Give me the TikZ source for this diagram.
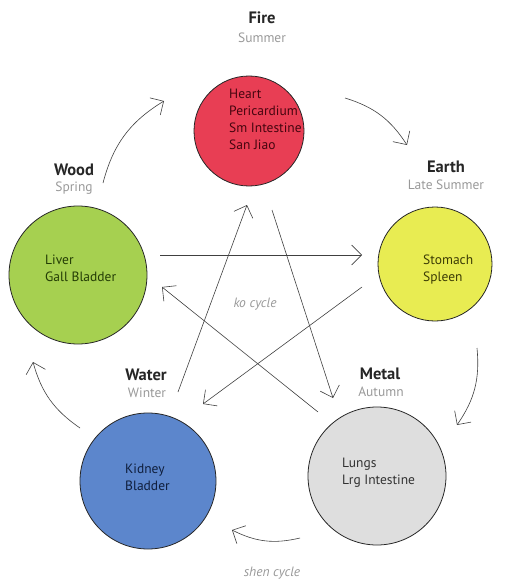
\documentclass[tikz,border=0pt]{standalone}
\usepackage{fontspec}
\setmainfont{PT Sans}
\usetikzlibrary{arrows.meta}
\definecolor{firec}{RGB}{232,62,84}
\definecolor{woodc}{RGB}{166,208,80}
\definecolor{earthc}{RGB}{232,236,82}
\definecolor{waterc}{RGB}{92,134,204}
\definecolor{metalc}{RGB}{222,222,222}
\definecolor{firet}{RGB}{70,5,15}
\definecolor{woodt}{RGB}{35,60,5}
\definecolor{eartht}{RGB}{60,60,5}
\definecolor{watert}{RGB}{15,30,60}
\definecolor{metalt}{RGB}{50,50,50}
\begin{document}
\begin{tikzpicture}[x=1pt,y=-1pt,
  elem/.style={circle, draw=black!85, line width=0.8pt, inner sep=0pt, minimum size=#1},
  organ/.style={align=left, inner sep=0pt, anchor=north west, font=\fontsize{13.5}{17}\selectfont},
  title/.style={font=\fontsize{16.5}{18}\selectfont\bfseries, text=black!85},
  season/.style={font=\fontsize{13.5}{15}\selectfont, text=black!40},
  cyc/.style={draw=black!75, line width=0.6pt, -{Straight Barb[length=10pt,width=20pt]}},
  lbl/.style={font=\fontsize{13.5}{15}\selectfont\itshape, text=black!40}]
\useasboundingbox (0,0) rectangle (511,583);
% circles
\node[elem=110pt, fill=firec] (fire) at (249,131) {};
\node[elem=138pt, fill=woodc] (wood) at (78,275) {};
\node[elem=114pt, fill=earthc] (earth) at (435,264) {};
\node[elem=136pt, fill=waterc] (water) at (148,481) {};
\node[elem=138pt, fill=metalc] (metal) at (377,476) {};
% organ texts
\node[organ, text=firet] (firetxt) at (229,89) {Heart\\Pericardium\\Sm Intestine\\San Jiao};
\node[organ, text=woodt] (woodtxt) at (45,255) {Liver\\Gall Bladder};
\node[organ, text=eartht] (earthtxt) at (423,255) {Stomach\\Spleen};
\node[organ, text=watert] (watertxt) at (125,464) {Kidney\\Bladder};
\node[organ, text=metalt] (metaltxt) at (342,458) {Lungs\\Lrg Intestine};
% titles
\node[title] (firet1) at (262,18) {Fire};
\node[season] (fires) at (262,38) {Summer};
\node[title] (woodt1) at (74,170) {Wood};
\node[season] (woods) at (74,188) {Spring};
\node[title] (eartht1) at (446,167) {Earth};
\node[season] (earths) at (446,185) {Late Summer};
\node[title] (watert1) at (146,375) {Water};
\node[season] (waters) at (147,393) {Winter};
\node[title] (metalt1) at (380,374) {Metal};
\node[season] (metals) at (381,392) {Autumn};
% shen cycle
\coordinate (s1a) at (103,183); \coordinate (s1b) at (164,101);
\coordinate (s2a) at (345,98);  \coordinate (s2b) at (407,145);
\coordinate (s3a) at (477,348); \coordinate (s3b) at (457,425);
\coordinate (s4a) at (300,538); \coordinate (s4b) at (232,530);
\coordinate (s5a) at (80,428);  \coordinate (s5b) at (33,362);
\draw[cyc] (s1a) to[bend left=22] (s1b);
\draw[cyc] (s2a) to[bend left=20] (s2b);
\draw[cyc] (s3a) to[bend left=20] (s3b);
\draw[cyc] (s4a) to[bend left=20] (s4b);
\draw[cyc] (s5a) to[bend left=20] (s5b);
\node[lbl] (shen) at (272,573) {shen cycle};
% ko cycle
\coordinate (k1a) at (160,255); \coordinate (k1b) at (362,255);
\coordinate (k2a) at (362,287); \coordinate (k2b) at (203,404);
\coordinate (k3a) at (178,392); \coordinate (k3b) at (247,205);
\coordinate (k4a) at (272,210); \coordinate (k4b) at (333,398);
\coordinate (k5a) at (318,412); \coordinate (k5b) at (162,287);
\draw[cyc] (k1a) -- (k1b);
\draw[cyc] (k2a) -- (k2b);
\draw[cyc] (k3a) -- (k3b);
\draw[cyc] (k4a) -- (k4b);
\draw[cyc] (k5a) -- (k5b);
\node[lbl] (ko) at (255,304) {ko cycle};
\end{tikzpicture}
\end{document}
